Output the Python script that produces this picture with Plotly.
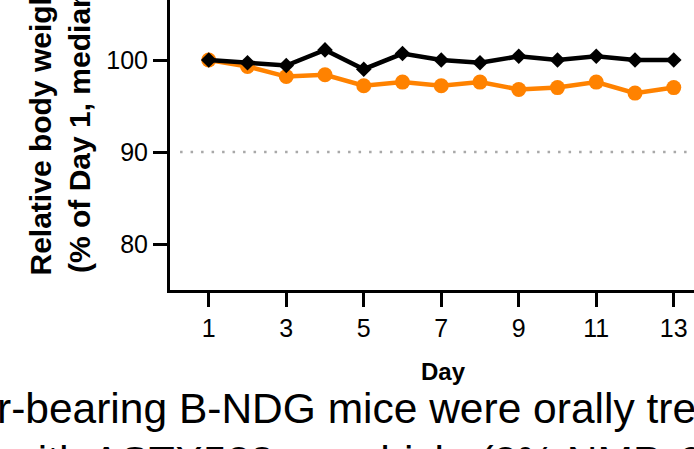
import plotly.graph_objects as go

days = list(range(1, 14))
vehicle = [100.0, 99.7, 99.4, 101.1, 99.0, 100.7, 100.0, 99.7, 100.4, 100.0, 100.4, 100.0, 100.0]
astx528 = [100.0, 99.3, 98.2, 98.4, 97.2, 97.6, 97.2, 97.6, 96.8, 97.0, 97.6, 96.4, 97.0]
x_ticks = [1, 3, 5, 7, 9, 11, 13]
y_ticks = [80, 90, 100]
threshold = 90

FONT = "Liberation Sans, Arial, sans-serif"
W, H = 694, 449
ML, MR, MT, MB = 170, 0, 0, 159
PW = W - ML - MR

def px_to_paper_x(px):
    return (px - ML) / PW

fig = go.Figure()
fig.add_trace(go.Scatter(
    x=days, y=astx528, mode="lines+markers", name="ASTX528",
    line=dict(color="#ff8200", width=4.5),
    marker=dict(symbol="circle", size=15, color="#ff8200"),
    showlegend=False))
fig.add_trace(go.Scatter(
    x=days, y=vehicle, mode="lines+markers", name="Vehicle",
    line=dict(color="black", width=4.5),
    marker=dict(symbol="diamond", size=12, color="black"),
    showlegend=False))

fig.add_shape(type="line", xref="x", yref="y", x0=0.26, x1=13.6, y0=threshold, y1=threshold,
              line=dict(color="#a8a8a8", width=2.5, dash="2.5px,8px"), layer="below")

fig.update_xaxes(range=[0, PW / 38.75], tickvals=x_ticks, ticktext=[str(v) for v in x_ticks],
                 showgrid=False, zeroline=False, showline=True, linecolor="black", linewidth=3,
                 ticks="outside", ticklen=14, tickwidth=3, tickcolor="black",
                 tickfont=dict(family=FONT, size=25, color="black"))
fig.update_yaxes(range=[75, 75 + 290 / 9.2], tickvals=y_ticks,
                 showgrid=False, zeroline=False, showline=True, linecolor="black", linewidth=3,
                 ticks="outside", ticklen=14, tickwidth=3, tickcolor="black",
                 tickfont=dict(family=FONT, size=25, color="black"))

fig.add_annotation(text="<b>Relative body weight</b><br><b>(% of Day 1, median)</b>",
                   xref="paper", yref="paper", x=px_to_paper_x(59.5), y=(290 - 127) / 290,
                   xanchor="center", yanchor="middle", textangle=-90, showarrow=False,
                   font=dict(family=FONT, size=30, color="black"))
fig.add_annotation(text="<b>Day</b>", xref="paper", yref="paper",
                   x=px_to_paper_x(443), y=-(371 - 290) / 290, xanchor="center", yanchor="middle",
                   showarrow=False, font=dict(family=FONT, size=24, color="black"))
fig.add_annotation(text="r-bearing B-NDG mice were orally treated", xref="paper", yref="paper",
                   x=px_to_paper_x(-5), y=-(408 - 290) / 290, xanchor="left", yanchor="middle",
                   showarrow=False, font=dict(family=FONT, size=42.5, color="black"))
fig.add_annotation(text="with ASTX528 or vehicle (2% NMP, 9", xref="paper", yref="paper",
                   x=px_to_paper_x(4), y=-(461 - 290) / 290, xanchor="left", yanchor="middle",
                   showarrow=False, font=dict(family=FONT, size=42.5, color="black"))

fig.update_layout(width=W, height=H, margin=dict(l=ML, r=MR, t=MT, b=MB, pad=0, autoexpand=False),
                  plot_bgcolor="white", paper_bgcolor="white", showlegend=False)
fig.write_html("out.html", config={"displayModeBar": False},
               post_script="document.body.style.margin='0';")
